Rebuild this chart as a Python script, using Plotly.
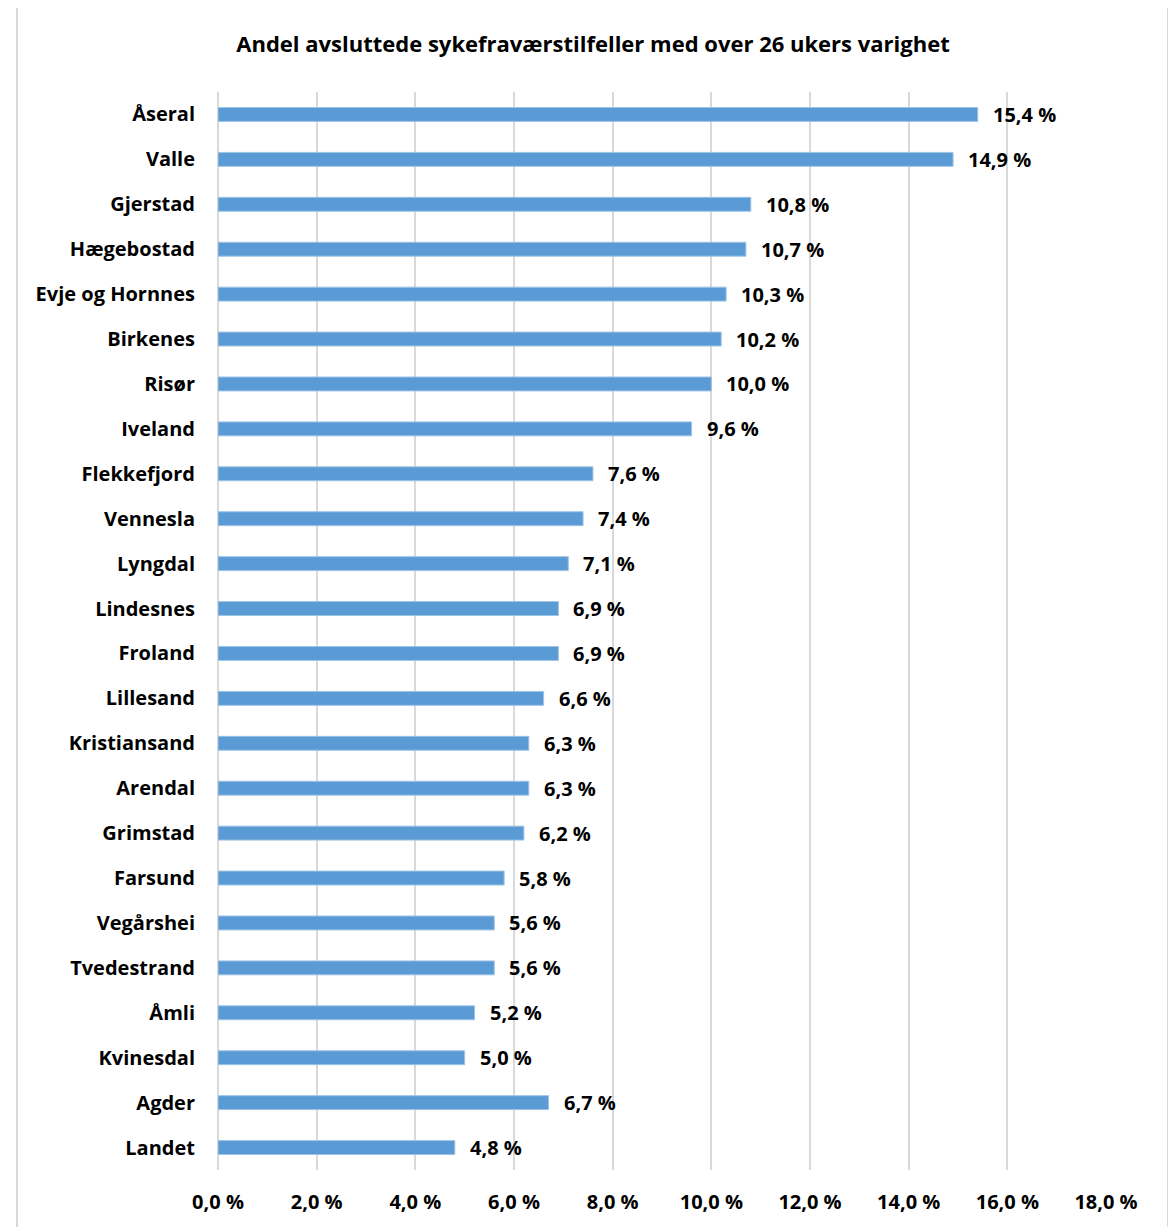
import plotly.graph_objects as go

categories = ["Åseral", "Valle", "Gjerstad", "Hægebostad", "Evje og Hornnes", "Birkenes",
              "Risør", "Iveland", "Flekkefjord", "Vennesla", "Lyngdal", "Lindesnes",
              "Froland", "Lillesand", "Kristiansand", "Arendal", "Grimstad", "Farsund",
              "Vegårshei", "Tvedestrand", "Åmli", "Kvinesdal", "Agder", "Landet"]
values = [15.4, 14.9, 10.8, 10.7, 10.3, 10.2, 10.0, 9.6, 7.6, 7.4, 7.1, 6.9,
          6.9, 6.6, 6.3, 6.3, 6.2, 5.8, 5.6, 5.6, 5.2, 5.0, 6.7, 4.8]
title = "Andel avsluttede sykefraværstilfeller med over 26 ukers varighet"

FONT = "Open Sans"
OFF = 8  # page body margin
W, H = 1176, 1227
L, R, T, B = 218 - OFF, 1106 - OFF, 92 - OFF, 1170 - OFF

fig = go.Figure()
fig.add_trace(go.Bar(
    x=values, y=categories, orientation="h",
    marker=dict(color="#5B9BD5", line=dict(color="#9DC3E6", width=1)),
    width=0.31, hoverinfo="x+y",
))

for c, v in zip(categories, values):
    fig.add_annotation(x=v, y=c, xref="x", yref="y", text=f"{v:.1f}".replace(".", ",") + " %",
                       showarrow=False, xanchor="left", yanchor="middle", xshift=13,
                       font=dict(family=FONT, size=20, color="#000000", weight="bold"))

def px_x(p):
    return (p - OFF - L) / (R - L)

def px_y(p):
    return (B - (p - OFF)) / (B - T)

fig.add_shape(type="rect", xref="paper", yref="paper",
              x0=px_x(17), x1=px_x(1168), y0=px_y(1245), y1=px_y(6),
              line=dict(color="#D9D9D9", width=2), fillcolor="rgba(0,0,0,0)", layer="below")

fig.update_layout(
    width=W, height=H,
    margin=dict(l=L, r=W - R, t=T, b=H - B, pad=0),
    paper_bgcolor="white", plot_bgcolor="white",
    separators=", ",
    showlegend=False,
    title=dict(text=title, x=(593 - OFF) / W, xref="container", xanchor="center",
               y=1 - (44 - OFF) / H, yref="container", yanchor="middle",
               font=dict(family=FONT, size=22, color="#000000", weight="bold")),
    font=dict(family=FONT, size=20, color="#000000", weight="bold"),
)
fig.update_xaxes(range=[0, 18], dtick=2, tick0=0, tickformat=".1f", ticksuffix=" %",
                 showgrid=True, gridcolor="#D9D9D9", gridwidth=2,
                 zeroline=True, zerolinecolor="#D9D9D9", zerolinewidth=2,
                 showline=False, ticks="", ticklabelstandoff=18,
                 tickfont=dict(family=FONT, size=20, color="#000000", weight="bold"))
fig.update_yaxes(autorange="reversed", showgrid=False, showline=False, ticks="",
                 ticklabelstandoff=22,
                 tickfont=dict(family=FONT, size=20, color="#000000", weight="bold"))

fig.write_html("out.html")
